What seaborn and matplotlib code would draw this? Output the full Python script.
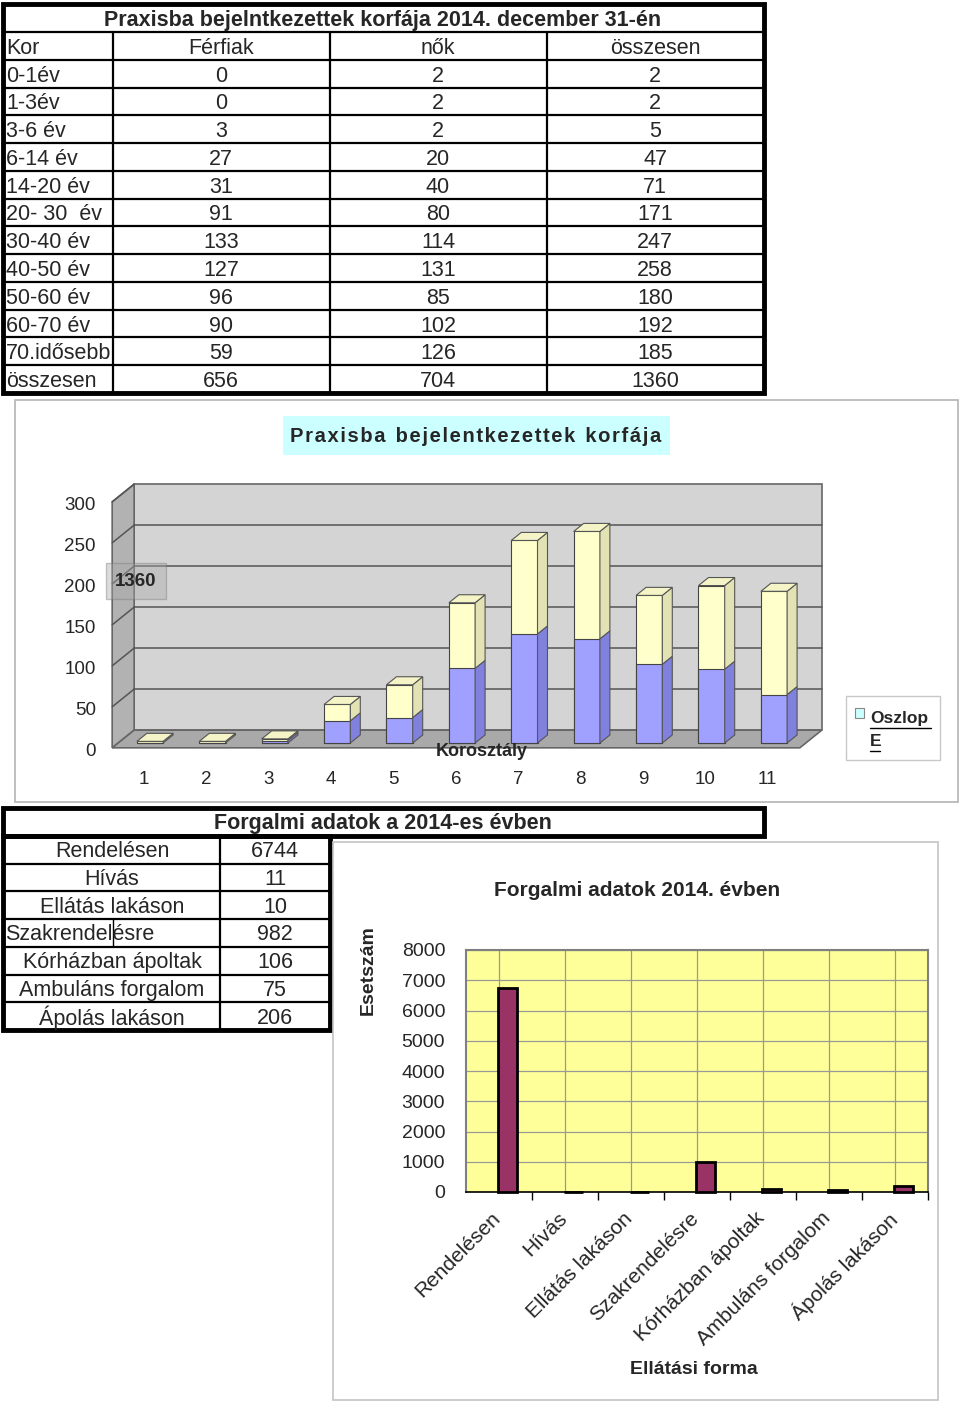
import numpy as np
import pandas as pd
import matplotlib
matplotlib.use("Agg")
import matplotlib.pyplot as plt
from matplotlib.patches import Polygon, Rectangle
import seaborn as sns

# --- korfa adatok ---
kor = ["0-1év", "1-3év", "3-6 év", "6-14 év", "14-20 év", "20- 30  év",
       "30-40 év", "40-50 év", "50-60 év", "60-70 év", "70.idősebb"]
ferfiak = [0, 0, 3, 27, 31, 91, 133, 127, 96, 90, 59]
nok = [2, 2, 2, 20, 40, 80, 114, 131, 85, 102, 126]
osszesen = [2, 2, 5, 47, 71, 171, 247, 258, 180, 192, 185]
osszes_sor = ["összesen", 656, 704, 1360]
csoport = [str(i) for i in range(1, 12)]
y_ertekek = [0, 50, 100, 150, 200, 250, 300]

# --- forgalmi adatok ---
forma = ["Rendelésen", "Hívás", "Ellátás lakáson", "Szakrendelésre",
         "Kórházban ápoltak", "Ambuláns forgalom", "Ápolás lakáson"]
esetszam = [6744, 11, 10, 982, 106, 75, 206]

sns.set_style("white")
plt.rcParams["font.family"] = ["Liberation Sans", "DejaVu Sans"]

W, H = 960, 1405
fig = plt.figure(figsize=(9.6, 14.05), dpi=100)
bg = fig.add_axes([0, 0, 1, 1])
bg.set_xlim(0, W)
bg.set_ylim(H, 0)
bg.axis("off")


def ax_rect(x0, y0, x1, y1):
    return [x0 / W, 1 - y1 / H, (x1 - x0) / W, (y1 - y0) / H]


FS = 15.5

# ================= felső táblázat =================
tx = [3, 113, 330, 547, 764]
head_y = 32
rh = (393 - 32) / 13
row_lines = [head_y + rh * i for i in range(14)]
for y in row_lines:
    bg.plot([3, 764], [y, y], color="black", lw=1.6)
for x in tx[1:-1]:
    bg.plot([x, x], [head_y, row_lines[-1]], color="black", lw=1.6)
bg.add_patch(Rectangle((3, 4), 761, 389, fill=False, lw=3.5, ec="black"))
bg.text(383, 20.5, "Praxisba bejelntkezettek korfája 2014. december 31-én",
        ha="center", va="center", fontsize=FS, fontweight="bold")

col_c = [221, 438, 655]
tabla = [["Kor", "Férfiak", "nők", "összesen"]]
tabla += [[k, f, n, o] for k, f, n, o in zip(kor, ferfiak, nok, osszesen)]
tabla += [osszes_sor]
for i, sor in enumerate(tabla):
    yc = head_y + rh * (i + 0.5) + 2.5
    bg.text(6, yc, sor[0], ha="left", va="center", fontsize=FS)
    for xc, v in zip(col_c, sor[1:]):
        bg.text(xc, yc, str(v), ha="center", va="center", fontsize=FS)

# ================= 3D oszlopdiagram =================
bg.add_patch(Rectangle((15, 400), 943, 402, fill=False, lw=1.2, ec="#b4b4b4"))
bg.add_patch(Rectangle((283, 416), 387, 39, fc="#ccffff", ec="none"))
bg.text(476, 437, " ".join("Praxisba bejelentkezettek korfája").replace("   ", "\u2002").replace(" ", "\u200a"),
        ha="center", va="center", fontsize=14.5, fontweight="bold")

ax3 = fig.add_axes(ax_rect(15, 400, 958, 802))
ax3.set_zorder(2)
ax3.patch.set_alpha(0)

XP0, XS = 150, 62.4
YP0, YS = 743, 0.82
DX, DY = 0.16, 9.8
D_FRONT, D_BACK = -0.6, 1.6
wx0, wx1 = -0.51, 10.51
BW = 0.42


def P(x, y, d):
    return (x + d * DX, y + d * DY)


def poly(pts, fc, z=1, ec="#555555", lw=0.8):
    ax3.add_patch(Polygon(pts, closed=True, fc=fc, ec=ec, lw=lw, zorder=z))


# falak
poly([P(wx0, 0, D_BACK), P(wx1, 0, D_BACK), P(wx1, 300, D_BACK), P(wx0, 300, D_BACK)],
     "#d4d4d4", z=0.5, ec="#666666", lw=1.2)
poly([P(wx0, 0, D_FRONT), P(wx0, 0, D_BACK), P(wx0, 300, D_BACK), P(wx0, 300, D_FRONT)],
     "#b2b2b2", z=0.6, ec="#666666", lw=1.2)
poly([P(wx0, 0, D_FRONT), P(wx1, 0, D_FRONT), P(wx1, 0, D_BACK), P(wx0, 0, D_BACK)],
     "#a9a9a9", z=0.7, ec="#666666", lw=1.2)
for v in y_ertekek[1:-1]:
    a, b = P(wx0, v, D_BACK), P(wx1, v, D_BACK)
    ax3.plot([a[0], b[0]], [a[1], b[1]], color="#555555", lw=1.1, zorder=0.8)
for v in y_ertekek[1:]:
    a, b = P(wx0, v, D_FRONT), P(wx0, v, D_BACK)
    ax3.plot([a[0], b[0]], [a[1], b[1]], color="#555555", lw=1.1, zorder=0.8)

df = pd.DataFrame({"csoport": csoport, "ferfiak": ferfiak, "osszesen": osszesen})
sns.barplot(data=df, x="csoport", y="osszesen", color="#ffffcc", saturation=1,
            width=BW, edgecolor="#444444", linewidth=0.8, zorder=3, ax=ax3)
sns.barplot(data=df, x="csoport", y="ferfiak", color="#a0a0ff", saturation=1,
            width=BW, edgecolor="#444444", linewidth=0.8, zorder=3, ax=ax3)

for i, (f, o) in enumerate(zip(ferfiak, osszesen)):
    xr = i + BW / 2
    xl = i - BW / 2
    if f > 0:
        poly([P(xr, 0, 0), P(xr, 0, 1), P(xr, f, 1), P(xr, f, 0)], "#8080dd", z=3)
    poly([P(xr, f, 0), P(xr, f, 1), P(xr, o, 1), P(xr, o, 0)], "#e2e2b4", z=3)
    poly([P(xl, o, 0), P(xr, o, 0), P(xr, o, 1), P(xl, o, 1)], "#f4f4c6", z=3.1)

for v in y_ertekek:
    x, y = P(wx0, v, D_FRONT)
    ax3.text(-0.87, y - 5, str(v), ha="right", va="center", fontsize=13.5)
for i, c in enumerate(csoport):
    ax3.text(i - 0.1, -44, c, ha="center", va="center", fontsize=13.5)
ax3.text((482 - XP0) / XS, (YP0 - 751) / YS, "Korosztály", ha="center", va="center",
         fontsize=13, fontweight="bold", zorder=5)
ax3.text((136 - XP0) / XS, (YP0 - 581) / YS, "1360", ha="center", va="center",
         fontsize=13.5, fontweight="bold", zorder=5,
         bbox=dict(boxstyle="square,pad=0.5", fc="#a8a8a8", alpha=0.4, ec="#777777"))

ax3.set_xlim((15 - XP0) / XS, (958 - XP0) / XS)
ax3.set_ylim((YP0 - 802) / YS, (YP0 - 400) / YS)
ax3.axis("off")

# jelmagyarázat
bg.add_patch(Rectangle((846, 696), 94, 64, fc="white", ec="#c8c8c8", lw=1))
bg.add_patch(Rectangle((855, 708), 9, 10, fc="#ccffff", ec="#888888", lw=0.8))
bg.text(870, 718, "Oszlop", ha="left", va="center", fontsize=12.5, fontweight="bold")
bg.plot([870, 931], [728, 728], color="black", lw=1)
bg.text(870, 741, "E", ha="left", va="center", fontsize=12.5, fontweight="bold")
bg.plot([870, 880], [751, 751], color="black", lw=1)

# ================= alsó táblázat =================
bg.add_patch(Rectangle((3, 808), 761, 28, fill=False, lw=3.5, ec="black"))
bg.text(383, 824, "Forgalmi adatok a 2014-es évben", ha="center", va="center",
        fontsize=FS, fontweight="bold")
bt_top = 836
brh = (1030 - 836) / 7
for i in range(1, 7):
    y = bt_top + brh * i
    bg.plot([3, 330], [y, y], color="black", lw=1.6)
bg.plot([220, 220], [bt_top, 1030], color="black", lw=1.6)
bg.add_patch(Rectangle((3, bt_top), 327, 1030 - bt_top, fill=False, lw=3.5, ec="black"))
for i, (f, v) in enumerate(zip(forma, esetszam)):
    yc = bt_top + brh * (i + 0.5) + 2
    if f == "Szakrendelésre":
        bg.text(5, yc, f, ha="left", va="center", fontsize=FS)
        bg.plot([113, 113], [bt_top + brh * i, bt_top + brh * (i + 1)], color="black", lw=1)
    else:
        bg.text(112, yc, f, ha="center", va="center", fontsize=FS)
    bg.text(275, yc, str(v), ha="center", va="center", fontsize=FS)

# ================= forgalmi oszlopdiagram =================
bg.add_patch(Rectangle((333, 842), 605, 558, fill=False, lw=1.2, ec="#c4c4c4"))
bg.text(637, 890, "Forgalmi adatok 2014. évben", ha="center", va="center",
        fontsize=15, fontweight="bold")
bg.text(368, 970, "Esetszám", ha="center", va="center", rotation=90,
        fontsize=14, fontweight="bold")
bg.text(694, 1369, "Ellátási forma", ha="center", va="center",
        fontsize=14, fontweight="bold")

ax2 = fig.add_axes(ax_rect(466, 950, 928, 1192))
ax2.set_facecolor("#ffff99")
pos = np.arange(len(forma))
sns.barplot(x=pos + 0.13, y=esetszam, native_scale=True, width=0.29,
            color="#993366", saturation=1, edgecolor="black", linewidth=2,
            zorder=3, clip_on=False, ax=ax2)
ax2.set_xlim(-0.5, len(forma) - 0.5)
ax2.set_ylim(0, 8000)
ax2.set_yticks(range(0, 8001, 1000))
ax2.set_yticklabels([str(v) for v in range(0, 8001, 1000)], fontsize=14)
# feliratok kicsit balra a rács vonalaitól
ax2.set_xticks(pos - 0.12)
ax2.set_xticklabels(forma, rotation=45, ha="right", va="top",
                    rotation_mode="anchor", fontsize=15)
ax2.set_xticks(pos + 0.5, minor=True)
ax2.tick_params(axis="x", which="major", length=0, pad=12)
ax2.tick_params(axis="x", which="minor", length=6, color="black", width=1, bottom=True)
ax2.tick_params(axis="y", length=0, pad=15)
ax2.grid(True, axis="y", color="#999999", lw=0.9, zorder=0)
for p in pos:
    ax2.axvline(p, color="#999999", lw=0.9, zorder=0)
ax2.set_axisbelow(True)
ax2.set_xlabel("")
ax2.set_ylabel("")
for s in ax2.spines.values():
    s.set_color("#808080")
    s.set_linewidth(1.5)
ax2.spines["bottom"].set_color("black")
ax2.spines["bottom"].set_linewidth(1.2)

fig.savefig("out.png", dpi=100)
